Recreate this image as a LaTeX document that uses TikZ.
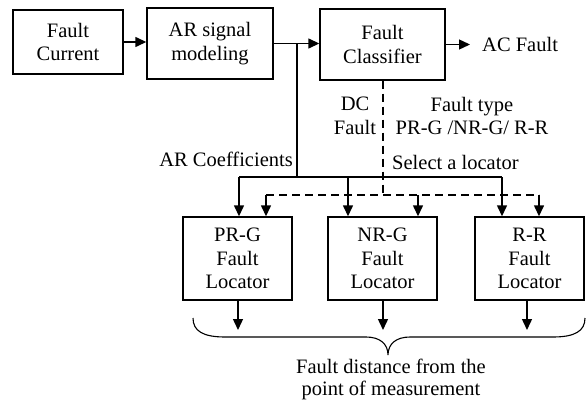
\documentclass[tikz,border=0pt]{standalone}
\usepackage{fontspec}
\setmainfont{Liberation Serif}
\usetikzlibrary{arrows.meta}
\begin{document}
\begin{tikzpicture}[x=1pt,y=-1pt,
  every node/.style={font=\fontsize{20.5}{23.5}\selectfont, inner sep=0pt},
  blk/.style={draw, line width=1.4pt, align=center},
  txt/.style={align=center},
  conn/.style={line width=1.4pt},
  arr/.style={line width=1.4pt, -{Triangle[length=11pt,width=10pt]}},
  dsh/.style={line width=1.4pt, dash pattern=on 8pt off 5pt}]
\useasboundingbox (0,0) rectangle (586,401);
% blocks
\node[blk, minimum width=110pt, minimum height=64pt] (fc) at (68,42) {Fault\\Current};
\node[blk, minimum width=126pt, minimum height=71pt] (ar) at (210,43.5) {AR signal\\modeling};
\node[blk, minimum width=125pt, minimum height=71pt] (cls) at (382.5,44.5) {Fault\\Classifier};
\node[blk, minimum width=109pt, minimum height=83pt] (pr) at (237.5,258.5) {PR-G\\Fault\\Locator};
\node[blk, minimum width=109pt, minimum height=83pt] (nr) at (382.5,258.5) {NR-G\\Fault\\Locator};
\node[blk, minimum width=109pt, minimum height=83pt] (rr) at (529.5,258.5) {R-R\\Fault\\Locator};
% labels
\node[txt, anchor=west] (acf) at (482,44) {AC Fault};
\node[txt] (dcf) at (355,116) {DC\\Fault};
\node[txt] (ftype) at (472,116) {Fault type\\PR-G /NR-G/ R-R};
\node[txt, anchor=east] (arc) at (293,159) {AR Coefficients};
\node[txt, anchor=west] (sel) at (392,162) {Select a locator};
\node[txt, font=\fontsize{20.5}{21.5}\selectfont] (dist) at (391,379.5) {Fault distance from the\\point of measurement};
% coordinates
\coordinate (j1) at (297,43.5);
\coordinate (j2) at (297,177);
\coordinate (s1) at (239,177);
\coordinate (s2) at (348,177);
\coordinate (s3) at (502,177);
\coordinate (d0) at (383,195);
\coordinate (d1) at (266,195);
\coordinate (d2) at (418,195);
\coordinate (d3) at (539,195);
\coordinate (o1) at (238,330);
\coordinate (o2) at (383,330);
\coordinate (o3) at (527,330);
% top chain
\draw[arr] (fc.east) -- (fc.east -| ar.west);
\draw[arr] (ar.east) -- (ar.east -| cls.west);
\draw[arr] (cls.east) -- (470,44.5);
% AR coefficients bus
\draw[conn] (j1) -- (j2);
\draw[conn] (s1) -- (s3);
\draw[arr] (s1) -- (s1 |- pr.north);
\draw[arr] (s2) -- (s2 |- nr.north);
\draw[arr] (s3) -- (s3 |- rr.north);
% selector bus (dashed)
\draw[dsh] (cls.south -| d0) -- (d0);
\draw[dsh] (d1) -- (d3);
\draw[arr] (d1) -- (d1 |- pr.north);
\draw[arr] (d2) -- (d2 |- nr.north);
\draw[arr] (d3) -- (d3 |- rr.north);
% outputs
\draw[arr] (pr.south -| o1) -- (o1);
\draw[arr] (nr.south -| o2) -- (o2);
\draw[arr] (rr.south -| o3) -- (o3);
% brace
\draw[line width=1.1pt] (193,318) .. controls (193,331) and (203,337) .. (225,337) -- (366,337)
  .. controls (380,337) and (388,344) .. (388,355)
  .. controls (388,344) and (396,337) .. (410,337) -- (553,337)
  .. controls (575,337) and (585,331) .. (585,318);
\end{tikzpicture}
\end{document}
